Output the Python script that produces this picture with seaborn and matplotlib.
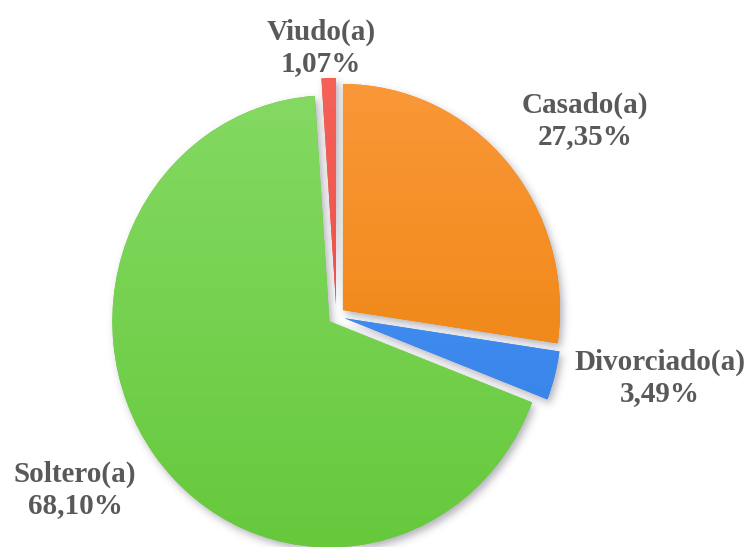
import numpy as np
import matplotlib
matplotlib.use('Agg')
import matplotlib.pyplot as plt
import seaborn as sns
from matplotlib.colors import to_rgb

categories = ['Casado(a)', 'Divorciado(a)', 'Soltero(a)', 'Viudo(a)']
values = [27.35, 3.49, 68.10, 1.07]
pct_labels = ['27,35%', '3,49%', '68,10%', '1,07%']
explode = [0.04, 0.04, 0.04, 0.053]
top_colors = ['#FA9838', '#4F98F6', '#84D962', '#F56258']
bottom_colors = ['#EA7E04', '#2F7DE6', '#66C93C', '#E5443A']
label_pos_px = [(585, 121), (660, 378), (75, 490), (321, 48)]

W, H = 747, 547
sns.set_theme(style='white')
fig = plt.figure(figsize=(W / 100, H / 100), dpi=100)
ax = fig.add_axes([0, 0, 1, 1])
wedges, _ = ax.pie(values, explode=explode, startangle=90, counterclock=False,
                   radius=1, colors=bottom_colors)
ax.set_aspect('auto')
xlim = (-1.550, 1.892)
ylim = (-1.022, 1.398)
ax.set_xlim(*xlim)
ax.set_ylim(*ylim)
ax.axis('off')

# soft shadow raster
xs = xlim[0] + (np.arange(W) + 0.5) / W * (xlim[1] - xlim[0])
ys = ylim[1] - (np.arange(H) + 0.5) / H * (ylim[1] - ylim[0])
X, Y = np.meshgrid(xs, ys)
mask = np.zeros((H, W))
for w in wedges:
    cx, cy = w.center
    dx, dy = X - cx, Y - cy
    rr = np.hypot(dx, dy)
    ang = np.degrees(np.arctan2(dy, dx))
    t1, t2 = w.theta1, w.theta2
    rel = (ang - t1) % 360
    span = (t2 - t1) % 360
    if span == 0:
        span = 360
    mask[(rr <= w.r) & (rel <= span)] = 1.0
sx, sy = 3, 4
shifted = np.zeros_like(mask)
shifted[sy:, sx:] = mask[:-sy, :-sx]
sigma = 4.0
k = np.arange(-12, 13)
g = np.exp(-k ** 2 / (2 * sigma ** 2))
g /= g.sum()
blur = np.apply_along_axis(lambda r: np.convolve(r, g, mode='same'), 1, shifted)
blur = np.apply_along_axis(lambda c: np.convolve(c, g, mode='same'), 0, blur)
shadow = np.zeros((H, W, 4))
shadow[..., 0] = 0.35
shadow[..., 1] = 0.33
shadow[..., 2] = 0.40
shadow[..., 3] = blur * 0.45
ax.imshow(shadow, extent=(xlim[0], xlim[1], ylim[0], ylim[1]), origin='upper',
          aspect='auto', zorder=0, interpolation='bilinear')

# gradient fills
for w, ct, cb in zip(wedges, top_colors, bottom_colors):
    w.set_zorder(1)
    w.set_edgecolor('none')
    cx, cy = w.center
    t = np.linspace(0, 1, 256)[:, None]
    a, b = np.array(to_rgb(ct)), np.array(to_rgb(cb))
    grad = (a[None, :] * (1 - t) + b[None, :] * t)[:, None, :]
    im = ax.imshow(grad, extent=(cx - 1, cx + 1, cy - 1, cy + 1), origin='upper',
                   aspect='auto', zorder=2, interpolation='bilinear')
    im.set_clip_path(w)

ax.set_xlim(*xlim)
ax.set_ylim(*ylim)

for cat, pct, (px, py) in zip(categories, pct_labels, label_pos_px):
    fig.text(px / W, 1 - py / H, f'{cat}\n{pct}', ha='center', va='center',
             fontsize=21, fontweight='bold', family=['Liberation Serif', 'DejaVu Serif'],
             color='#595959', linespacing=1.2)

fig.savefig('out.png', dpi=100, facecolor='white')
